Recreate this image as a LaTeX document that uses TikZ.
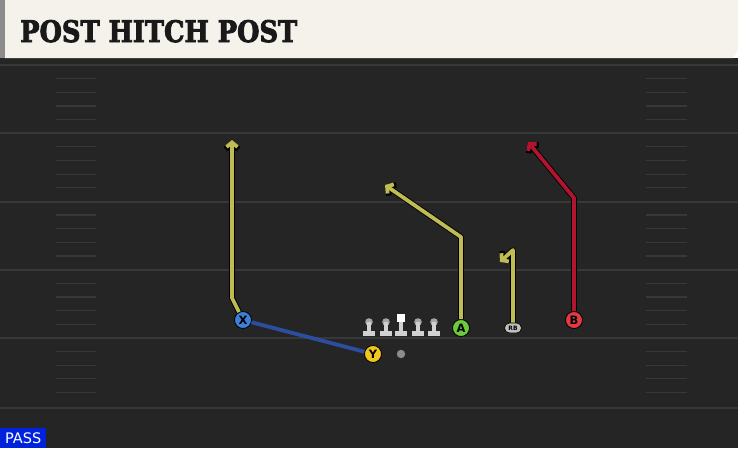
\documentclass[tikz,border=0pt]{standalone}
\usepackage{fontspec}
\setmainfont{DejaVu Serif}
\setsansfont{DejaVu Sans}
\newfontfamily\titrefont{DejaVu Serif}[UprightFont=*-Bold,FakeBold=3]
\usetikzlibrary{arrows.meta,shapes.misc}

\definecolor{terrain}{RGB}{37,37,37}
\definecolor{ligne}{RGB}{56,56,56}
\definecolor{creme}{RGB}{245,242,235}
\definecolor{jaune}{RGB}{190,188,82}
\definecolor{rouge}{RGB}{176,20,46}
\definecolor{bleu}{RGB}{43,78,158}
\definecolor{passbleu}{RGB}{0,34,221}

\begin{document}
\begin{tikzpicture}[x=1pt,y=-1pt,
    joueur/.style={circle,draw=black,line width=0.8pt,minimum size=17pt,
      inner sep=0pt,font=\sffamily\bfseries\fontsize{11.5}{11.5}\selectfont},
    contour/.style={draw=black,line width=5.6pt,line join=round,
      -{Straight Barb[length=5.5pt,width=13pt]}},
    trajet/.style={draw=#1,line width=3.8pt,line join=round,
      -{Straight Barb[length=4.5pt,width=11pt]}},
  ]
  \useasboundingbox (0,0) rectangle (738,448);

  % Terrain
  \fill[terrain] (0,58) rectangle (738,448);
  \fill[black!85] (0,58) rectangle (738,62);
  \foreach \y in {65,133,202,270,338,408}
    \draw[ligne,line width=1.5pt] (0,\y) -- (738,\y);
  \foreach \b in {65,133.2,201.4,269.6,337.8}
    \foreach \k in {1,...,4}{
      \draw[ligne,line width=1.2pt] (56,\b+13.65*\k) -- (96,\b+13.65*\k);
      \draw[ligne,line width=1.2pt] (646,\b+13.65*\k) -- (687,\b+13.65*\k);
    }

  % Titre
  \fill[black!45] (0,0) rectangle (5,58);
  \fill[creme] (5,0) -- (738,0) -- (738,50) -- (733,58) -- (5,58) -- cycle;
  \node[anchor=base west,inner sep=0pt,text=black!90] (titre) at (20,42)
    {\resizebox{277pt}{22pt}{\titrefont POST HITCH POST}};

  % Ligne offensive
  \foreach \x in {369,386,418,434}{
    \fill[black!35] (\x,322) circle (3.8);
    \fill[black!18] (\x-2.2,322) rectangle (\x+2.2,332);
    \fill[black!18] (\x-6.3,331) rectangle (\x+6.3,336);
  }
  \fill[white] (397,314) rectangle (405,322);
  \fill[black!18] (398.8,322) rectangle (403.2,332);
  \fill[black!18] (394.7,331) rectangle (407.3,336);
  \fill[black!45] (401,354) circle (4.2);

  % Joueurs
  \node[joueur,fill={rgb,255:red,60;green,127;blue,216}] (X) at (243,320) {X};
  \node[joueur,fill={rgb,255:red,242;green,197;blue,31}] (Y) at (373,354) {Y};
  \node[joueur,fill={rgb,255:red,108;green,203;blue,58}] (A) at (461,328) {A};
  \node[joueur,fill={rgb,255:red,224;green,58;blue,69}] (B) at (574,320) {B};
  \node[rounded rectangle,draw=black,line width=0.6pt,fill=black!25,
    minimum width=17pt,minimum height=10pt,inner sep=0pt,
    font=\sffamily\bfseries\fontsize{6}{6}\selectfont] (RB) at (513,328) {RB};

  % Tracés
  \coordinate (x1) at (232,298);
  \coordinate (x2) at (232,140);
  \coordinate (a1) at (461,237);
  \coordinate (a2) at (385,185);
  \coordinate (r1) at (513,250);
  \coordinate (r2) at (500,262);
  \coordinate (b1) at (574,198);
  \coordinate (b2) at (528,142);

  \draw[bleu,line width=3.8pt] (X) -- (Y);

  \draw[contour] (X) -- (x1) -- (x2);
  \draw[trajet=jaune] (X) -- (x1) -- (x2);
  \draw[contour] (A) -- (a1) -- (a2);
  \draw[trajet=jaune] (A) -- (a1) -- (a2);
  \draw[contour] (RB) -- (r1) -- (r2);
  \draw[trajet=jaune] (RB) -- (r1) -- (r2);
  \draw[contour] (B) -- (b1) -- (b2);
  \draw[trajet=rouge] (B) -- (b1) -- (b2);

  % Type de jeu
  \node[anchor=south west,fill=passbleu,text=white,minimum width=46pt,
    minimum height=20pt,inner sep=0pt,
    font=\sffamily\fontsize{14.5}{14.5}\selectfont] (pass) at (0,448) {PASS};
\end{tikzpicture}
\end{document}
